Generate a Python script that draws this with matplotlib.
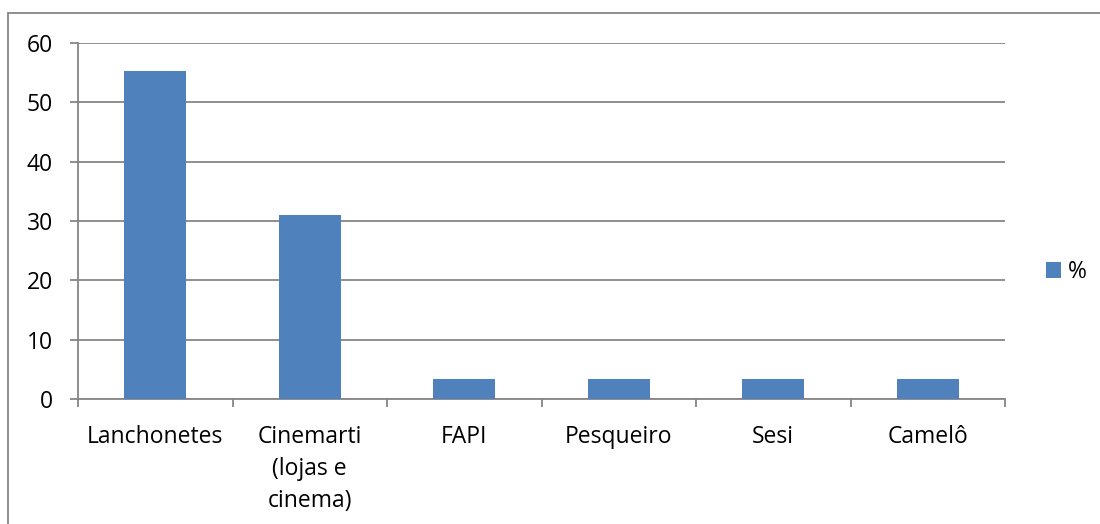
import matplotlib.pyplot as plt
from matplotlib.patches import Rectangle

# dados
categorias = ['Lanchonetes', 'Cinemarti\n(lojas e\ncinema)', 'FAPI', 'Pesqueiro', 'Sesi', 'Camelô']
valores = [55.2, 31.0, 3.45, 3.45, 3.45, 3.45]
serie = '%'
y_ticks = [0, 10, 20, 30, 40, 50, 60]

plt.rcParams['font.family'] = ['Open Sans', 'DejaVu Sans']
cor_barra = '#4F81BD'
cor_grade = '#868686'
fs = 16.5

W, H = 1100, 524
fig = plt.figure(figsize=(11, 5.24), dpi=100)
ax = fig.add_axes([78 / W, 1 - 399 / H, (1005 - 78) / W, (399 - 43) / H])

x = list(range(len(categorias)))
ax.bar(x, valores, width=0.4, color=cor_barra, label=serie, zorder=3)

ax.set_xlim(-0.5, len(categorias) - 0.5)
ax.set_ylim(0, 60)
ax.set_yticks(y_ticks)
ax.set_yticklabels([str(v) for v in y_ticks], fontsize=fs)
ax.yaxis.grid(True, color=cor_grade, lw=1.3, zorder=0)

# rótulos das categorias sem marcas, marcas nos limites
ax.set_xticks(x)
ax.set_xticklabels(categorias, fontsize=fs, linespacing=1.42)
ax.tick_params(axis='x', length=0, pad=19)
ax.set_xticks([i - 0.5 for i in range(len(categorias) + 1)], minor=True)
ax.tick_params(axis='x', which='minor', length=6, width=1.3, color=cor_grade, direction='out')
ax.tick_params(axis='y', length=6, width=1.3, color=cor_grade, pad=12)

for lado in ['top', 'right']:
    ax.spines[lado].set_visible(False)
for lado in ['left', 'bottom']:
    ax.spines[lado].set_color(cor_grade)
    ax.spines[lado].set_linewidth(1.3)

leg = ax.legend(loc='center left', bbox_to_anchor=(1046 / W, 1 - 272 / H), bbox_transform=fig.transFigure,
                frameon=False, fontsize=fs, handlelength=0.65, handleheight=0.65, handletextpad=0.3,
                borderaxespad=0, borderpad=0)

# moldura do gráfico
fig.patches.append(Rectangle((8 / W, -0.1), 1.2, 1 - 13 / H + 0.1, transform=fig.transFigure,
                             fill=False, edgecolor=cor_grade, lw=1.3))

fig.savefig('out.png', dpi=100)
